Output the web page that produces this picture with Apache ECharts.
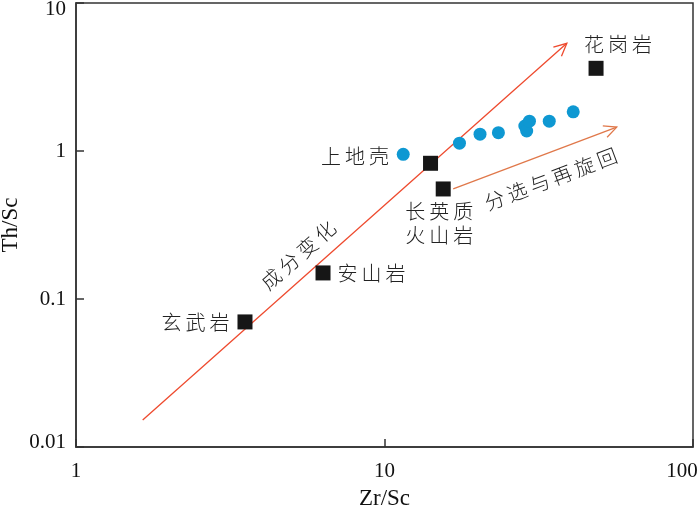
<!DOCTYPE html>
<html>
<head>
<meta charset="utf-8">
<script src="https://cdn.jsdelivr.net/npm/echarts@6/dist/echarts.min.js"></script>
<style>html,body{margin:0;padding:0;background:#fff}#c{width:700px;height:510px}</style>
</head>
<body>
<div id="c"></div>
<script>
// ---- data ----
const rockNames = ['玄武岩', '安山岩', '上地壳', '长英质\n火山岩', '花岗岩'];
const rockZrSc = [3.53, 6.32, 14.1, 15.5, 48.5];
const rockThSc = [0.070, 0.150, 0.826, 0.554, 3.62];

const sampleZrSc = [11.5, 17.5, 20.4, 23.4, 28.5, 28.9, 29.5, 34.2, 40.9];
const sampleThSc = [0.95, 1.13, 1.30, 1.33, 1.475, 1.365, 1.59, 1.59, 1.84];

const trendNames = ['成分变化', '分选与再旋回'];
const trendStartZr = [1.645, 16.7];
const trendStartTh = [0.0152, 0.554];
const trendEndZr = [39.0, 56.6];
const trendEndTh = [5.34, 1.45];
const trendLabelZr = [5.25, 34.6];
const trendLabelTh = [0.198, 0.647];
const trendColors = ['#EE4A2E', '#E0784A'];

const xTicks = [1, 10, 100];
const yTicks = [0.01, 0.1, 1, 10];

// ---- chart ----
const cjk = '"Noto Sans CJK SC", sans-serif';
const serif = '"Liberation Serif", "Times New Roman", serif';
const sp = s => s.split('\n').map(l => Array.from(l).join('\u2009')).join('\n');

const rockLabel = [
  {position: 'left', distance: 8},
  {position: 'right', distance: 7},
  {position: 'left', distance: 34, offset: [0, -7]},
  {position: 'bottom', distance: 3, offset: [-4, 0], align: 'center', lineHeight: 24},
  {position: 'top', distance: 6, offset: [22, 0]}
];

const chart = echarts.init(document.getElementById('c'), null, {renderer: 'canvas'});
const fmtNum = v => String(+(+v).toPrecision(3));

chart.setOption({
  animation: false,
  grid: {left: 76, right: 7, top: 3, bottom: 63, outerBoundsMode: 'none', containLabel: false,
         show: true, borderColor: '#333', borderWidth: 1.5},
  xAxis: {
    type: 'log', logBase: 10, min: xTicks[0], max: xTicks[xTicks.length - 1],
    name: 'Zr/Sc', nameLocation: 'middle', nameGap: 40, nameMoveOverlap: false,
    nameTextStyle: {fontFamily: serif, fontSize: 23, color: '#111'},
    axisLine: {lineStyle: {color: '#333', width: 1.5}},
    axisTick: {inside: true, length: 8, lineStyle: {color: '#333', width: 1.5}},
    splitLine: {show: false},
    axisLabel: {
      margin: 14, fontFamily: serif, fontSize: 21, color: '#111',
      formatter: v => { const s = fmtNum(v); return +s === xTicks[xTicks.length - 1] ? '{r|' + s + '}' : s; },
      rich: {r: {fontFamily: serif, fontSize: 21, color: '#111', padding: [0, 22, 0, 0]}}
    }
  },
  yAxis: {
    type: 'log', logBase: 10, min: yTicks[0], max: yTicks[yTicks.length - 1],
    name: 'Th/Sc', nameLocation: 'middle', nameGap: 54, nameMoveOverlap: false,
    nameTextStyle: {fontFamily: serif, fontSize: 23, color: '#111'},
    axisLine: {lineStyle: {color: '#333', width: 1.5}},
    axisTick: {inside: true, length: 8, lineStyle: {color: '#333', width: 1.5}},
    splitLine: {show: false},
    axisLabel: {
      margin: 10, fontFamily: serif, fontSize: 21, color: '#111',
      formatter: v => {
        const s = fmtNum(v);
        if (+s === yTicks[yTicks.length - 1]) return '{t|' + s + '}';
        if (+s === yTicks[0]) return '{b|' + s + '}';
        return s;
      },
      rich: {
        t: {fontFamily: serif, fontSize: 21, color: '#111', padding: [13, 0, 0, 0]},
        b: {fontFamily: serif, fontSize: 21, color: '#111', padding: [0, 0, 10, 0]}
      }
    }
  },
  series: [
    {
      type: 'custom',
      z: 1,
      data: trendNames.map((n, i) => [trendStartZr[i], trendStartTh[i], trendEndZr[i], trendEndTh[i], trendLabelZr[i], trendLabelTh[i], i]),
      renderItem: (params, api) => {
        const i = api.value(6);
        const p0 = api.coord([api.value(0), api.value(1)]);
        const p1 = api.coord([api.value(2), api.value(3)]);
        const pl = api.coord([api.value(4), api.value(5)]);
        const ang = Math.atan2(p1[1] - p0[1], p1[0] - p0[0]);
        const hl = 14, ha = 0.45;
        const h1 = [p1[0] - hl * Math.cos(ang - ha), p1[1] - hl * Math.sin(ang - ha)];
        const h2 = [p1[0] - hl * Math.cos(ang + ha), p1[1] - hl * Math.sin(ang + ha)];
        const color = trendColors[i];
        return {
          type: 'group',
          children: [
            {type: 'line', shape: {x1: p0[0], y1: p0[1], x2: p1[0], y2: p1[1]}, style: {stroke: color, lineWidth: 1.3}},
            {type: 'polyline', shape: {points: [h1, p1, h2]}, style: {stroke: color, lineWidth: 1.3, fill: null}},
            {type: 'text', x: pl[0], y: pl[1], rotation: -ang,
             style: {text: sp(trendNames[i]), fontFamily: cjk, fontWeight: 300, fontSize: 20, fill: '#222', align: 'center', verticalAlign: 'middle'}}
          ]
        };
      }
    },
    {
      type: 'scatter',
      z: 3,
      symbol: 'circle',
      symbolSize: 13,
      itemStyle: {color: '#0E98D2', opacity: 1},
      data: sampleZrSc.map((x, i) => [x, sampleThSc[i]])
    },
    {
      type: 'scatter',
      z: 4,
      symbol: 'rect',
      symbolSize: 15,
      itemStyle: {color: '#161616', opacity: 1},
      data: rockNames.map((n, i) => ({
        value: [rockZrSc[i], rockThSc[i]],
        label: Object.assign({show: true, formatter: sp(n), fontFamily: cjk, fontWeight: 300, fontSize: 20, color: '#222'}, rockLabel[i])
      }))
    }
  ]
});
</script>
</body>
</html>
